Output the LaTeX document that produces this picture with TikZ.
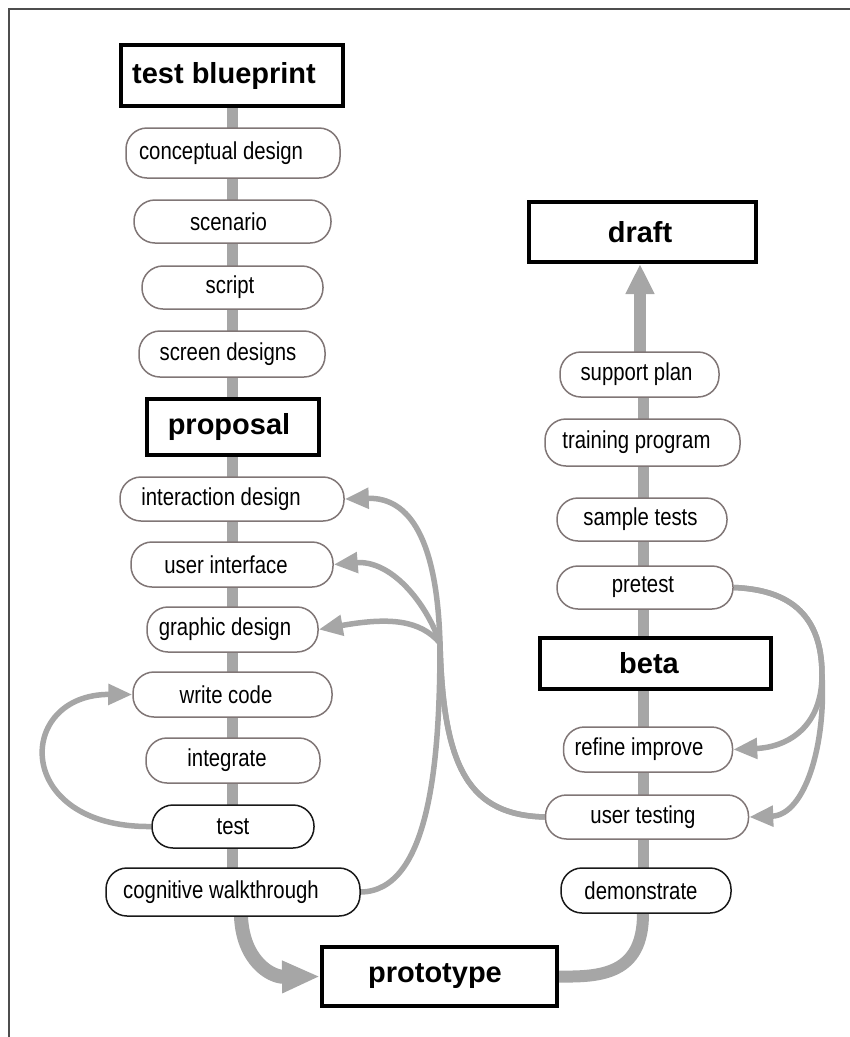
\documentclass[tikz,border=0pt]{standalone}
\usepackage{fontspec}
\setmainfont{Liberation Sans}
\newfontfamily\narrowfam[FakeStretch=0.83]{Liberation Sans}
\usetikzlibrary{arrows.meta}
\pgfdeclarelayer{bg}
\pgfsetlayers{bg,main}
\definecolor{lgray}{RGB}{166,166,166}
\definecolor{pillc}{RGB}{128,118,118}
\definecolor{framec}{RGB}{77,77,77}
\newcommand\regf{\narrowfam\fontsize{24.5}{28}\selectfont}
\newcommand\boldf{\fontsize{29}{34}\selectfont\bfseries}
\tikzset{
  tx/.style={execute at end node={\hspace*{#1pt}}},
  pill/.style={draw=pillc, line width=1.5pt, fill=white, rounded corners=21pt,
    inner sep=0pt, font=\regf},
  bpill/.style={pill, draw=black!90},
  bbox/.style={draw=black, line width=4pt, fill=white, inner sep=0pt, font=\boldf},
  vline/.style={draw=lgray, line width=11pt},
  carrow/.style={draw=lgray, line width=5.5pt, -{Triangle[length=24pt,width=20pt]}},
}
\begin{document}
\begin{tikzpicture}[x=1pt,y=-1pt]
\useasboundingbox (0,0) rectangle (850,1037);
\draw[framec, line width=2pt] (9,1037) -- (9,9) -- (850,9);

\coordinate (colL) at (232,0);
\coordinate (colR) at (643,0);
\coordinate (colD) at (640,0);
\coordinate (colB) at (241,0);
\coordinate (colM) at (643,0);
\coordinate (hubL) at (440,643);
\coordinate (hubR) at (822,675);

% left column
\node[bbox, minimum width=222pt, minimum height=61pt, tx=16] (tb) at (232,75.5) {test blueprint};
\node[pill, minimum width=214pt, minimum height=50pt, tx=24] (cd) at (233,153) {conceptual design};
\node[pill, minimum width=197pt, minimum height=43pt, tx=8] (sc) at (232.5,221.5) {scenario};
\node[pill, minimum width=181pt, minimum height=43pt, tx=5] (sr) at (232.5,287.5) {script};
\node[pill, minimum width=186pt, minimum height=46pt, tx=8] (sd) at (232,354) {screen designs};
\node[bbox, minimum width=172pt, minimum height=56pt, tx=8] (pp) at (233,427) {proposal};
\node[pill, minimum width=224pt, minimum height=44pt, tx=22] (id) at (232,499) {interaction design};
\node[pill, minimum width=202pt, minimum height=45pt, tx=12] (ui) at (232,564.5) {user interface};
\node[pill, minimum width=171pt, minimum height=45pt, tx=15] (gd) at (232.5,629.5) {graphic design};
\node[pill, minimum width=199pt, minimum height=45pt, tx=13] (wc) at (232.5,694.5) {write code};
\node[pill, minimum width=174pt, minimum height=45pt, tx=12] (ig) at (233,760.5) {integrate};
\node[bpill, minimum width=162pt, minimum height=43pt, tx=0] (te) at (233,826.5) {test};
\node[bpill, minimum width=254pt, minimum height=48pt, tx=24] (cw) at (233,892) {cognitive walkthrough};

% right column
\node[bbox, minimum width=227pt, minimum height=60pt, tx=5] (dr) at (642.5,232) {draft};
\node[pill, minimum width=159pt, minimum height=45pt, tx=6] (sp) at (639.5,374.5) {support plan};
\node[pill, minimum width=195pt, minimum height=47pt, tx=12] (tp) at (642.5,442.5) {training program};
\node[pill, minimum width=170pt, minimum height=43pt, tx=3] (st) at (642,519.5) {sample tests};
\node[pill, minimum width=176pt, minimum height=43pt, tx=4] (pt) at (645,587.5) {pretest};
\node[bbox, minimum width=231pt, minimum height=51pt, tx=13] (be) at (655.5,663.5) {beta};
\node[pill, minimum width=169pt, minimum height=45pt, tx=18] (ri) at (648,749.5) {refine improve};
\node[pill, minimum width=203pt, minimum height=44pt, tx=8] (ut) at (647,817) {user testing};
\node[bpill, minimum width=170pt, minimum height=45pt, tx=10] (dm) at (646,890.5) {demonstrate};

\node[bbox, minimum width=235pt, minimum height=59pt, tx=9] (pr) at (439.5,976.5) {prototype};

\begin{pgfonlayer}{bg}
  \foreach \a/\b in {tb/cd,cd/sc,sc/sr,sr/sd,sd/pp,pp/id,id/ui,ui/gd,gd/wc,wc/ig,ig/te,te/cw}
    \draw[vline] (\a -| colL) -- (\b -| colL);
  \foreach \a/\b in {dm/ut,ut/ri,ri/be,be/pt,pt/st,st/tp,tp/sp}
    \draw[vline] (\a -| colR) -- (\b -| colR);
  \draw[draw=lgray, line width=12pt, -{Triangle[length=30pt,width=27pt]}]
    (sp -| colD) -- (dr.south -| colD);

  % bottom thick connectors
  \draw[draw=lgray, line width=14pt, -{Triangle[length=38pt,width=30pt]}]
    (cw -| colB) -- (cw.south -| colB) .. controls (243,960) and (270,977) .. (pr.west);
  \draw[draw=lgray, line width=12pt]
    (dm -| colM) -- (dm.south -| colM) .. controls (643,975) and (600,977) .. (pr.east);

  % loop test -> write code
  \draw[carrow] (te.west) .. controls (12,828) and (15,694) .. (wc.west);

  % feedback to design nodes
  \draw[carrow] (cw.east) .. controls (430,891) and (440,760) .. (hubL)
    .. controls (437,540) and (410,497) .. (id.east);
  \draw[carrow] (ut.west) .. controls (470,815) and (443,770) .. (hubL)
    .. controls (425,600) and (390,560) .. (ui.east);
  \draw[carrow] (ut.west) .. controls (470,815) and (443,770) .. (hubL)
    .. controls (420,620) and (390,617) .. (gd.east);

  % pretest feedback
  \draw[carrow] (pt.east) .. controls (800,590) and (822,625) .. (hubR)
    .. controls (822,725) and (790,747) .. (ri.east);
  \draw[carrow] (pt.east) .. controls (800,590) and (822,625) .. (hubR)
    .. controls (826,745) and (805,815) .. (ut.east);
\end{pgfonlayer}
\end{tikzpicture}
\end{document}
